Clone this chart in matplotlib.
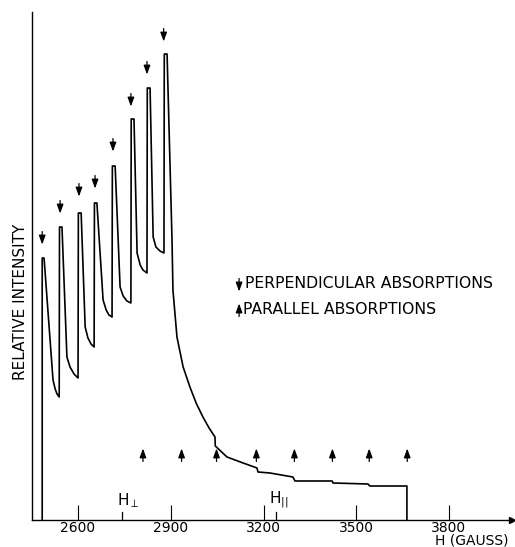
import matplotlib
matplotlib.use("Agg")
import matplotlib.pyplot as plt

# ---- data ----
# spectrum trace: magnetic field (gauss) and relative intensity
field = [2484, 2484, 2490, 2519, 2526, 2532, 2539,
         2540, 2542, 2548, 2564, 2574, 2587, 2600,
         2601, 2603, 2610, 2623, 2632, 2642, 2652,
         2653, 2655, 2661, 2681, 2691, 2700, 2710,
         2711, 2713, 2720, 2736, 2746, 2758, 2771,
         2772, 2774, 2781, 2791, 2801, 2810, 2823,
         2824, 2826, 2833, 2843, 2852, 2865, 2878,
         2879, 2881, 2888, 2904, 2907, 2920, 2940, 2962, 2982, 3004, 3024, 3043,
         3044, 3082, 3134, 3179, 3182, 3221, 3295, 3302, 3422,
         3425, 3538, 3544, 3664, 3664]
intensity = [0, 262, 262, 140, 131, 126, 123,
             293, 293, 293, 163, 153, 146, 142,
             307, 307, 307, 193, 182, 176, 173,
             317, 317, 317, 220, 210, 205, 203,
             354, 354, 354, 233, 224, 219, 217,
             401, 401, 401, 267, 255, 250, 247,
             432, 432, 432, 283, 273, 269, 267,
             466, 466, 466, 280, 230, 183, 153, 133, 117, 103, 92, 83,
             74, 63, 57, 52, 48, 47, 43, 39, 39,
             37, 36, 34, 34, 0]

# perpendicular absorptions (down arrows)
perp_fields = [2484, 2542, 2603, 2655, 2713, 2771, 2823, 2877]
perp_levels = [282, 313, 330, 338, 375, 420, 452, 485]
# parallel absorptions (up arrows)
par_fields = [2810, 2935, 3048, 3177, 3300, 3423, 3542, 3665]
par_level = 65

xticks = [2600, 2900, 3200, 3500, 3800]
xticklabels = ["2600", "2900", "3200", "3500", "3800"]
h_perp = 2742
h_par = 3239

legend_labels = ["PERPENDICULAR ABSORPTIONS", "PARALLEL ABSORPTIONS"]

# ---- figure ----
W, H = 515, 547
fig = plt.figure(figsize=(W / 100, H / 100), dpi=100)
ax = fig.add_axes([32 / W, (H - 520) / H, (512 - 32) / W, (520 - 12) / H])
ax.set_xlim(2451, 4004)
ax.set_ylim(0, 508)

for s in ("top", "right"):
    ax.spines[s].set_visible(False)
for s in ("left", "bottom"):
    ax.spines[s].set_linewidth(1.0)
ax.set_yticks([])
ax.set_xticks(xticks)
ax.set_xticklabels(xticklabels, fontsize=10)
ax.tick_params(axis="x", direction="in", length=10.5, width=0.8, pad=0.5)

# arrow at end of field axis
ax.plot(1.0, 0, marker=">", color="k", markersize=5, transform=ax.transAxes,
        clip_on=False)

ax.plot(field, intensity, color="k", lw=1.2, solid_joinstyle="round")

arrow_len = 13
def arrow(x, yc, up, scale=9):
    if up:
        tip, tail = yc + arrow_len / 2, yc - arrow_len / 2
    else:
        tip, tail = yc - arrow_len / 2, yc + arrow_len / 2
    ax.annotate("", xy=(x, tip), xytext=(x, tail),
                arrowprops=dict(arrowstyle="-|>,head_length=0.6,head_width=0.22",
                                color="k", lw=0.9, mutation_scale=scale,
                                shrinkA=0, shrinkB=0))

for x, y in zip(perp_fields, perp_levels):
    arrow(x, y, up=False)
for x in par_fields:
    arrow(x, par_level, up=True)

# H_perp and H_par markers
ax.plot([h_perp, h_perp], [0, 8], color="k", lw=0.9)
ax.plot([h_par, h_par], [0, 8], color="k", lw=0.9)
ax.text(h_perp - 16, 10, r"H$_{\perp}$", fontsize=11, ha="left", va="bottom")
ax.text(h_par - 20, 10, r"H$_{||}$", fontsize=11, ha="left", va="bottom")

# legend
arrow(3121, 235, up=False)
ax.text(3140, 236, legend_labels[0], fontsize=11.3, ha="left", va="center")
arrow(3121, 210, up=True)
ax.text(3134, 211, legend_labels[1], fontsize=11.3, ha="left", va="center")

# axis labels
fig.text(21 / W, 1 - 302 / H, "RELATIVE INTENSITY", rotation=90, fontsize=11,
         ha="center", va="center")
fig.text(435 / W, 1 - 541 / H, "H (GAUSS)", fontsize=10, ha="left", va="center")

fig.savefig("out.png", dpi=100)
